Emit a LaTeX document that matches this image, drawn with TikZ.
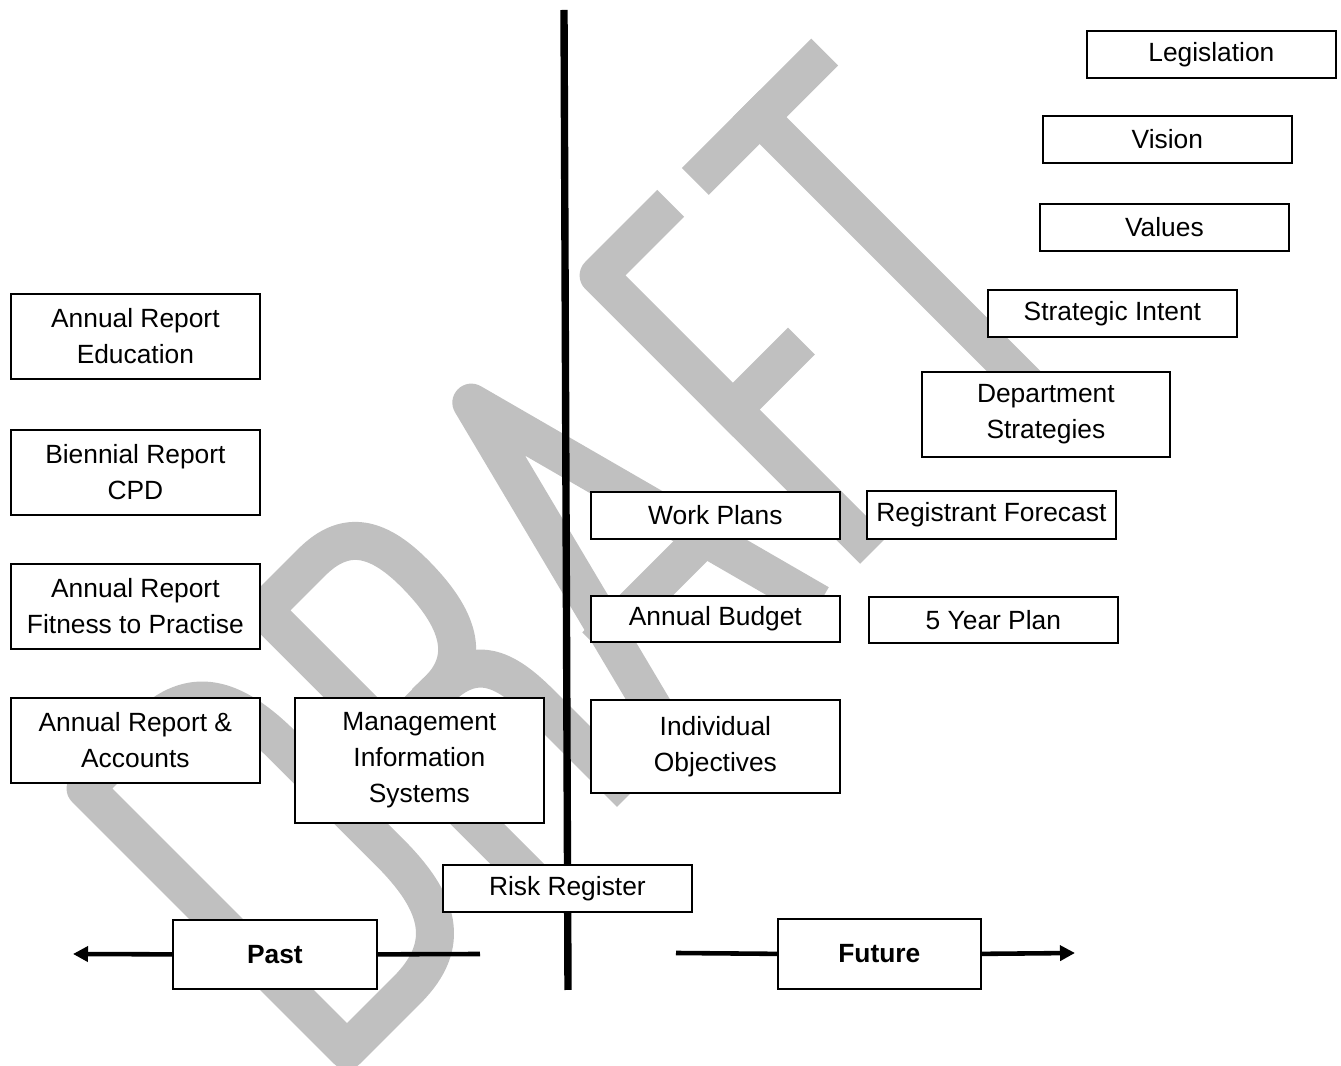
\documentclass[tikz,border=0pt]{standalone}
\usepackage{fontspec}
\setmainfont{Liberation Sans}
\usetikzlibrary{arrows.meta, positioning, calc}

\definecolor{draftgrey}{RGB}{192,192,192}

\begin{document}
\begin{tikzpicture}[
    box/.style={rectangle, draw, fill=white, line width=0.5pt, minimum width=2.49cm, minimum height=0.47cm, anchor=north west, align=center, inner sep=1pt, font=\fontsize{7.5}{10.2}\selectfont},
    twoline/.style={box, minimum height=0.85cm},
    timebox/.style={box, minimum width=2.04cm, minimum height=0.69cm, font=\fontsize{7.5}{10.2}\selectfont\bfseries},
    line/.style={line width=1.3pt},
    arrow/.style={-{Triangle[length=0.15cm, width=0.15cm]}, line width=1.3pt},
    watermark/.style={draw=draftgrey, line width=0.38cm, line join=round, line cap=rect}
]

    % Page size
    \useasboundingbox (0,0) rectangle (13.41,-10.66);

    % --- DRAFT watermark (letters on a 45 degree baseline) ---
    \begin{scope}[shift={(3.47,-10.50)}, rotate=45, x=0.01cm, y=0.01cm]
        % D
        \draw[watermark] (0,0) -- (0,370) -- (85,370) .. controls (150,370) and (170,330) .. (170,260)
            -- (170,110) .. controls (170,40) and (150,0) .. (85,0) -- cycle;
        % R
        \draw[watermark] (252,0) -- (252,370) -- (320,370) .. controls (365,370) and (385,345) .. (385,290)
            .. controls (385,225) and (365,190) .. (320,190) -- (252,190);
        \draw[watermark] (320,190) .. controls (370,190) and (382,160) .. (382,110) -- (382,0);
        % A
        \draw[watermark] (452,0) -- (546,370) -- (645,0);
        \draw[watermark] (481,110) -- (616,110);
        % F
        \draw[watermark] (809,370) -- (726,370) -- (726,0);
        \draw[watermark] (726,180) -- (804,180);
        % T
        \draw[watermark] (880,368) -- (1025,368);
        \draw[watermark] (952,368) -- (952,0);
    \end{scope}

    % --- Past / Future divider ---
    \coordinate (divtop) at (5.64,-0.10);
    \coordinate (divbot) at (5.68,-9.90);
    \draw[line width=2.1pt] (divtop) -- (divbot);

    % --- Future side (right) ---
    \node[box] (legislation) at (10.86,-0.30) {Legislation};
    \node[box] (vision) at (10.42,-1.15) {Vision};
    \node[box] (values) at (10.39,-2.03) {Values};
    \node[box] (intent) at (9.87,-2.89) {Strategic Intent};
    \node[twoline, minimum width=2.48cm] (deptstrat) at (9.21,-3.71) {Department\\Strategies};
    \node[box, minimum height=0.48cm] (forecast) at (8.66,-4.90) {Registrant Forecast};
    \node[box] (workplans) at (5.90,-4.91) {Work Plans};
    \node[box, minimum height=0.46cm] (budget) at (5.90,-5.95) {Annual Budget};
    \node[box, minimum height=0.46cm] (fiveyear) at (8.68,-5.96) {5 Year Plan};
    \node[box, minimum height=0.93cm] (objectives) at (5.90,-6.99) {Individual\\Objectives};

    % --- Past side (left) ---
    \node[twoline] (areducation) at (0.10,-2.93) {Annual Report\\Education};
    \node[twoline] (brcpd) at (0.10,-4.29) {Biennial Report\\CPD};
    \node[twoline] (arfitness) at (0.10,-5.63) {Annual Report\\Fitness to Practise};
    \node[twoline] (araccounts) at (0.10,-6.97) {Annual Report \&\\Accounts};
    \node[box, minimum height=1.25cm] (mis) at (2.94,-6.97) {Management\\Information\\Systems};

    % Risk Register sits across the divider
    \node[box] (risk) at (4.42,-8.64) {Risk Register};

    % --- Time axis ---
    \node[timebox] (past) at (1.72,-9.19) {Past};
    \node[timebox, minimum width=2.03cm, minimum height=0.70cm] (future) at (7.77,-9.18) {Future};

    \coordinate (pastend) at (0.73,-9.54);
    \coordinate (pastgap) at (4.80,-9.54);
    \draw[arrow] (past.west) -- (pastend);
    \draw[line] (past.east) -- (pastgap);

    \coordinate (futurestart) at (6.76,-9.53);
    \coordinate (futureend) at (10.75,-9.53);
    \draw[line] (futurestart) -- (future.west);
    \draw[arrow] (future.east) -- (futureend);

\end{tikzpicture}
\end{document}
